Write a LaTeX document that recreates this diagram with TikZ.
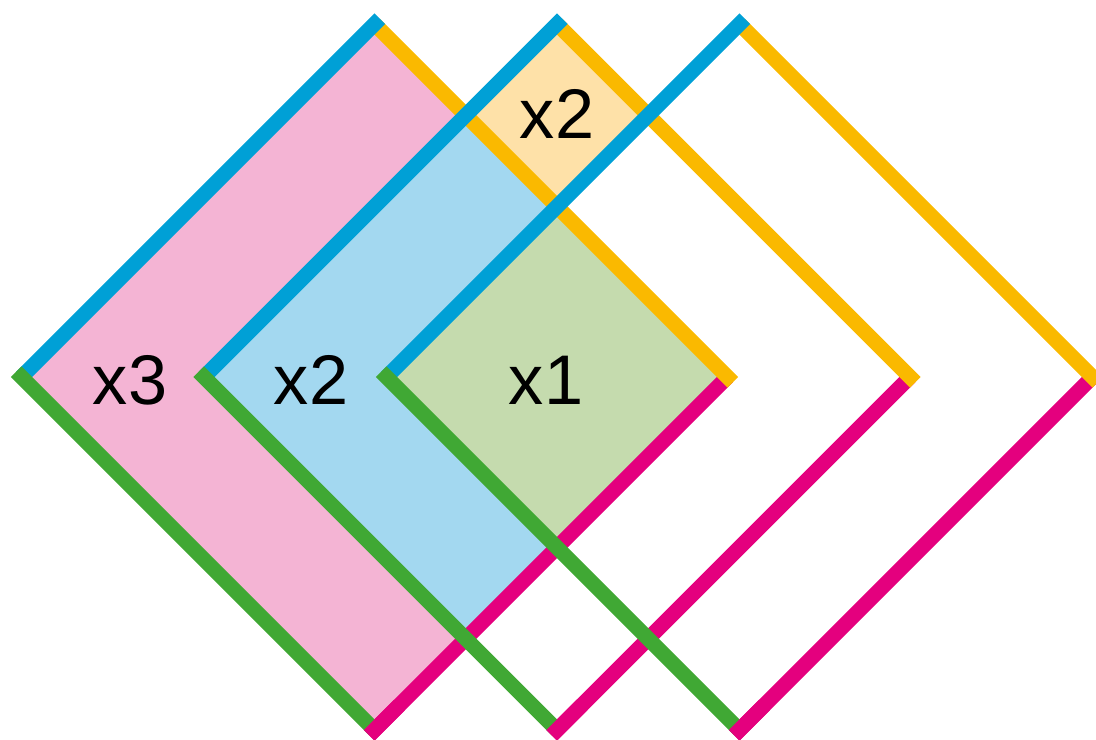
\documentclass[tikz,border=0pt]{standalone}
\usepackage{fontspec}
\setmainfont{Liberation Sans}
\definecolor{sideblue}{RGB}{0,160,214}
\definecolor{sideorange}{RGB}{250,185,0}
\definecolor{sidemagenta}{RGB}{228,0,126}
\definecolor{sidegreen}{RGB}{64,168,52}
\definecolor{fillpink}{RGB}{244,180,212}
\definecolor{fillblue}{RGB}{163,216,240}
\definecolor{fillorange}{RGB}{254,225,168}
\definecolor{fillgreen}{RGB}{197,219,174}
\tikzset{
  side/.style={line width=0.30cm, line cap=butt, shorten >=-0.15cm},
  lbl/.style={font=\fontsize{40}{48}\selectfont, anchor=base, inner sep=0pt}
}
\begin{document}
\begin{tikzpicture}[x=0.02cm,y=-0.02cm]
  \useasboundingbox (0,0) rectangle (1096,740);
  \foreach \i/\cx in {1/374.5,2/557,3/739.5} {
    \coordinate (L\i) at (\cx-353,377);
    \coordinate (T\i) at (\cx,24);
    \coordinate (R\i) at (\cx+353,377);
    \coordinate (B\i) at (\cx,730);
  }
  \fill[fillpink] (L1) -- (T1) -- (R1) -- (B1) -- cycle;
  \fill[fillblue] (L2) -- (intersection of L2--T2 and T1--R1) -- (R1)
    -- (intersection of L2--B2 and R1--B1) -- cycle;
  \fill[fillgreen] (L3) -- (intersection of L3--T3 and T1--R1) -- (R1)
    -- (intersection of L3--B3 and R1--B1) -- cycle;
  \fill[fillorange] (T2) -- (intersection of T2--R2 and L3--T3)
    -- (intersection of L3--T3 and T1--R1)
    -- (intersection of L2--T2 and T1--R1) -- cycle;
  \foreach \i in {1,2,3} \draw[side,sidemagenta] (R\i) -- (B\i);
  \foreach \i in {1,2,3} \draw[side,sideorange] (T\i) -- (R\i);
  \foreach \i in {1,2,3} \draw[side,sideblue] (L\i) -- (T\i);
  \foreach \i in {1,2,3} \draw[side,sidegreen] (B\i) -- (L\i);
  \foreach \i in {1,2,3} \draw[side,sidemagenta] (B\i) ++(25,-25) -- (B\i);
  \node[lbl] (timesthree) at (130,404) {x3};
  \node[lbl] (timestwo) at (311,404) {x2};
  \node[lbl] (timesone) at (546,404) {x1};
  \node[lbl] (timestwotop) at (557,139) {x2};
\end{tikzpicture}
\end{document}
